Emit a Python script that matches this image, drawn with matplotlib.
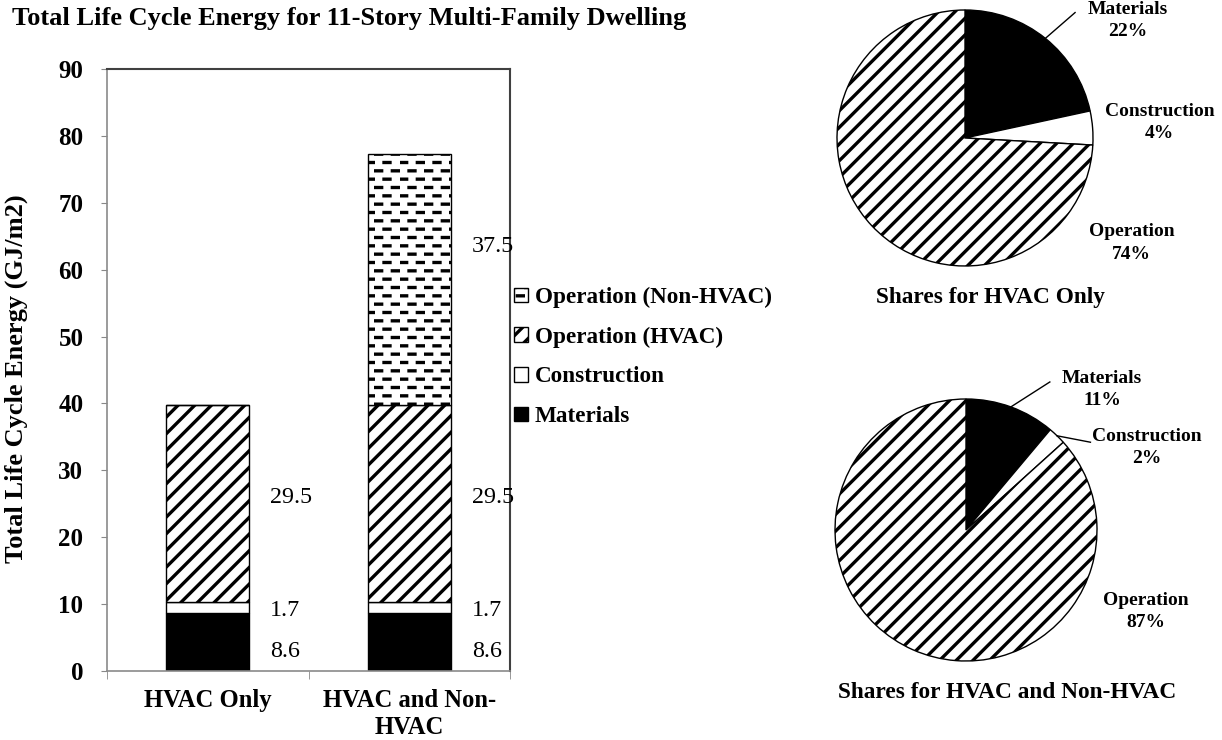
import numpy as np
import matplotlib
matplotlib.use("Agg")
import matplotlib.pyplot as plt
import matplotlib.hatch as mhatch
from matplotlib.path import Path

# ---------------- data ----------------
categories = ["HVAC Only", "HVAC and Non-\nHVAC"]
series_names = ["Materials", "Construction", "Operation (HVAC)", "Operation (Non-HVAC)"]
materials = [8.6, 8.6]
construction = [1.7, 1.7]
operation_hvac = [29.5, 29.5]
operation_nonhvac = [0.0, 37.5]
y_ticks = [0, 10, 20, 30, 40, 50, 60, 70, 80, 90]
pie_labels = ["Materials", "Construction", "Operation"]
pie_titles = ["Shares for HVAC Only", "Shares for HVAC and Non-HVAC"]
title = "Total Life Cycle Energy for 11-Story Multi-Family Dwelling"
ylabel = "Total Life Cycle Energy (GJ/m2)"

# ---------------- custom dashed hatch ----------------
class DashRows(mhatch.HatchPatternBase):
    def __init__(self, hatch, density):
        n = hatch.count('=')
        self.rows = 12 * n
        self.cols = 6 * n
        self.num_vertices = self.rows * self.cols * 2

    def set_vertices_and_codes(self, vertices, codes):
        k = 0
        for i in range(self.rows):
            yy = (i + 0.5) / self.rows
            off = (i % 2) * 0.5 / self.cols
            for j in range(self.cols):
                x0 = j / self.cols + off + 0.04 / self.cols
                x1 = x0 + 0.36 / self.cols
                vertices[k] = (x0, yy)
                vertices[k + 1] = (x1, yy)
                codes[k] = Path.MOVETO
                codes[k + 1] = Path.LINETO
                k += 2

mhatch._hatch_types.append(DashRows)
mhatch._validate_hatch_pattern = lambda h: None

SERIF = ["Liberation Serif", "DejaVu Serif"]
plt.rcParams["font.family"] = SERIF
plt.rcParams["hatch.linewidth"] = 2.4

W, H = 1222, 740
fig = plt.figure(figsize=(W / 100, H / 100), dpi=100)

def fax(l, t, r, b):
    return fig.add_axes([l / W, 1 - b / H, (r - l) / W, (b - t) / H])

# ---------------- bar chart ----------------
ax = fax(107, 69, 510, 671)
x = np.arange(len(categories))
bw = 0.41
styles = [
    dict(color="black", hatch=None),
    dict(color="white", hatch=None),
    dict(color="white", hatch="//"),
    dict(color="white", hatch="="),
]
series = [materials, construction, operation_hvac, operation_nonhvac]
label_offsets = [-9, -3, 6, 33]  # pixel offsets of value labels
bottom = np.zeros(len(categories))
containers = []
for name, vals, st, off in zip(series_names, series, styles, label_offsets):
    vals = np.array(vals)
    bc = ax.bar(x, vals, bw, bottom=bottom, color=st["color"], edgecolor="black",
                linewidth=1.0, hatch=st["hatch"], label=name, zorder=2)
    containers.append(bc)
    for xi, v, b0 in zip(x, vals, bottom):
        if v > 0:
            ax.annotate(f"{v:.1f}", xy=(xi + 0.31, b0 + v / 2), xytext=(0, off),
                        textcoords="offset pixels", ha="left", va="center",
                        fontsize=17.3, family=SERIF)
    bottom = bottom + vals

ax.set_xlim(-0.5, 1.5)
ax.set_ylim(0, 90)
ax.set_yticks(y_ticks)
ax.set_yticklabels([str(t) for t in y_ticks], fontsize=18, fontweight="bold")
ax.set_xticks(x)
ax.set_xticklabels(categories, fontsize=17.7, fontweight="bold", linespacing=1.2)
ax.set_xticks([-0.5, 0.5, 1.5], minor=True)
ax.tick_params(axis="x", which="major", length=0, pad=13)
ax.tick_params(axis="x", which="minor", length=6, direction="out", color="#888888")
ax.tick_params(axis="y", length=4, direction="out", color="#888888", pad=13)
for s in ["left", "bottom"]:
    ax.spines[s].set_color("#8a8a8a")
    ax.spines[s].set_linewidth(1.2)
for s in ["top", "right"]:
    ax.spines[s].set_color("#404040")
    ax.spines[s].set_linewidth(1.5)
ax.set_ylabel(ylabel, fontsize=19, fontweight="bold")
ax.yaxis.set_label_coords(-79 / 403, 0.485)

handles = [c.patches[0] for c in containers][::-1]
labels = series_names[::-1]
fig.legend(handles, labels, loc="upper left", bbox_to_anchor=(514 / W, 1 - 287 / H),
           frameon=False, borderpad=0, borderaxespad=0, handlelength=0.6,
           handleheight=0.6, handletextpad=0.3, labelspacing=0.8,
           prop=dict(family=SERIF, size=16.7, weight="bold"))

fig.text(12 / W, 1 - 19 / H, title, ha="left", va="center", fontsize=19,
         fontweight="bold")

# ---------------- pies ----------------
tot1 = [materials[0], construction[0], operation_hvac[0] + operation_nonhvac[0]]
tot2 = [materials[1], construction[1], operation_hvac[1] + operation_nonhvac[1]]
pie_specs = [
    dict(vals=tot1, center=(965, 138), r=128, title_xy=(990, 298),
         label_pos=[(1.27, 0.92), (1.52, 0.12), (1.30, -0.82)],
         leaders=[(0.86, 0.98), None, None]),
    dict(vals=tot2, center=(966, 530), r=131, title_xy=(1007, 692),
         label_pos=[(1.04, 1.07), (1.38, 0.63), (1.37, -0.62)],
         leaders=[(0.64, 1.13), (0.95, 0.67), None]),
]
for spec, ptitle in zip(pie_specs, pie_titles):
    cx, cy = spec["center"]
    r = spec["r"]
    pax = fax(cx - r, cy - r, cx + r, cy + r)
    vals = np.array(spec["vals"])
    wedges, _ = pax.pie(vals, startangle=90, counterclock=False,
                        colors=["black", "white", "white"],
                        hatch=[None, None, "//"],
                        wedgeprops=dict(edgecolor="black", linewidth=1.0))
    pax.set_xlim(-1, 1)
    pax.set_ylim(-1, 1)
    pax.set_aspect("equal")
    fr = vals / vals.sum()
    cum = np.cumsum(fr) - fr / 2
    for i, (lab, f) in enumerate(zip(pie_labels, fr)):
        txt = f"{lab}\n{int(round(f * 100))}%"
        lx, ly = spec["label_pos"][i]
        pax.text(lx, ly, txt, ha="center", va="center", fontsize=14,
                 fontweight="bold", linespacing=1.4, clip_on=False)
        ld = spec["leaders"][i]
        if ld is not None:
            ang = np.deg2rad(90 - cum[i] * 360)
            pax.plot([np.cos(ang), ld[0]], [np.sin(ang), ld[1]], color="black",
                     lw=1.0, clip_on=False)
    tx, ty = spec["title_xy"]
    fig.text(tx / W, 1 - ty / H, ptitle, ha="center", va="center", fontsize=16.8,
             fontweight="bold")

fig.savefig("out.png", dpi=100)
